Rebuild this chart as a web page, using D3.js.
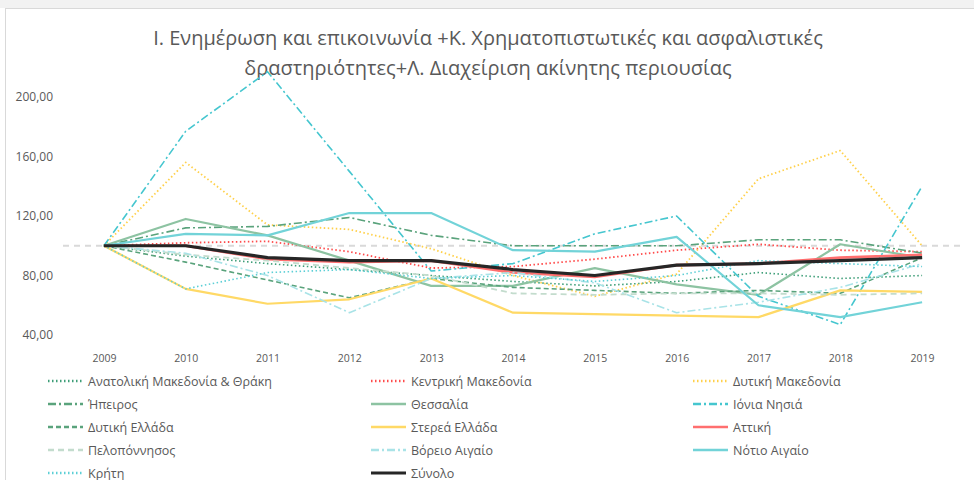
<!DOCTYPE html>
<html>
<head>
<meta charset="utf-8">
<script src="https://cdn.jsdelivr.net/npm/d3@7"></script>
<style>
  body { margin: 0; background: #fff; }
  text { font-family: "Open Sans", "Noto Sans", sans-serif; fill: #595959; }
</style>
</head>
<body>
<svg id="chart" width="974" height="480"></svg>
<script>
// years on the category axis
const years = [2009, 2010, 2011, 2012, 2013, 2014, 2015, 2016, 2017, 2018, 2019];

// index values per region (2009 = 100)
const anatMakThraki = [100, 93, 88, 84, 80, 76, 73, 76, 82, 78, 80];
const kentMak       = [100, 102, 103, 96, 85, 86, 91, 97, 101, 97, 96];
const dytMak        = [100, 156, 114, 111, 98, 80, 66, 81, 145, 164, 100];
const ipeiros       = [100, 112, 113, 119, 107, 100, 100, 100, 104, 104, 95];
const thessalia     = [100, 118, 107, 90, 73, 73, 85, 74, 67, 101, 92];
const ionia         = [100, 177, 217, 150, 83, 88, 108, 120, 66, 47, 140];
const dytEllada     = [100, 89, 77, 65, 78, 72, 70, 68, 70, 68, 92];
const stereaEllada  = [100, 71, 61, 64, 78, 55, 54, 53, 52, 70, 69];
const attiki        = [100, 100, 91, 89, 90, 82, 79, 87, 88, 92, 94];
const peloponnisos  = [100, 94, 90, 85, 80, 68, 67, 68, 68, 67, 68];
const voreioAigaio  = [100, 95, 80, 55, 78, 82, 75, 55, 62, 72, 88];
const notioAigaio   = [100, 108, 107, 122, 122, 97, 96, 106, 60, 52, 62];
const kriti         = [100, 71, 82, 84, 78, 80, 76, 80, 90, 88, 86];
const synolo        = [100, 100, 92, 90, 90, 84, 80, 87, 88, 90, 92];

const seriesNames = ["Ανατολική Μακεδονία & Θράκη", "Κεντρική Μακεδονία", "Δυτική Μακεδονία",
  "Ήπειρος", "Θεσσαλία", "Ιόνια Νησιά", "Δυτική Ελλάδα", "Στερεά Ελλάδα", "Αττική",
  "Πελοπόννησος", "Βόρειο Αιγαίο", "Νότιο Αιγαίο", "Κρήτη", "Σύνολο"];

const yTicks = [40, 80, 120, 160, 200];
const refLevel = 100;

const titleLines = ["Ι. Ενημέρωση και επικοινωνία +Κ. Χρηματοπιστωτικές και ασφαλιστικές",
  "δραστηριότητες+Λ. Διαχείριση ακίνητης περιουσίας"];

// line styles, same order as seriesNames
const styles = [
  {color: "#3e9e78", width: 1.6, dash: "1.5,2.5"},
  {color: "#ff4b4b", width: 1.8, dash: "1.5,2.5"},
  {color: "#ffd04a", width: 1.8, dash: "1.5,2.5"},
  {color: "#5aa37c", width: 1.6, dash: "8,3,2,3"},
  {color: "#8dc3a2", width: 2.2, dash: null},
  {color: "#45c6cf", width: 1.6, dash: "8,3,2,3"},
  {color: "#5aa37c", width: 1.6, dash: "5,3"},
  {color: "#ffd966", width: 2.2, dash: null},
  {color: "#ff6f6f", width: 2.6, dash: null},
  {color: "#c3dccd", width: 1.8, dash: "6,4"},
  {color: "#a9e3e7", width: 1.6, dash: "8,3,2,3"},
  {color: "#72d3d8", width: 2.2, dash: null},
  {color: "#5ccfd6", width: 1.6, dash: "1.5,2.5"},
  {color: "#262626", width: 3.2, dash: null}
];

const allValues = [anatMakThraki, kentMak, dytMak, ipeiros, thessalia, ionia, dytEllada,
  stereaEllada, attiki, peloponnisos, voreioAigaio, notioAigaio, kriti, synolo];

const series = seriesNames.map((name, i) => ({name: name, values: allValues[i], style: styles[i]}));

const svg = d3.select("#chart");

// chart frame
svg.append("rect").attr("x", 0).attr("y", 0).attr("width", 974).attr("height", 8).attr("fill", "#f2f2f2");
svg.append("rect").attr("x", 5.5).attr("y", 8.5).attr("width", 980).attr("height", 480)
  .attr("fill", "#fff").attr("stroke", "#d9d9d9");

// title
svg.append("g").selectAll("text")
  .data(titleLines)
  .enter()
  .append("text")
    .attr("x", 488)
    .attr("y", (d, i) => 45 + i * 30)
    .attr("text-anchor", "middle")
    .attr("font-size", 20)
    .text(d => d);

// scales
const x = d3.scalePoint()
  .domain(years)
  .range([63, 963])
  .padding(0.5);

const y = d3.scaleLinear()
  .domain([40, 200])
  .range([335, 97]);

// y axis labels
const yAxis = svg.append("g")
  .attr("transform", "translate(55,0)")
  .call(d3.axisLeft(y).tickValues(yTicks).tickSize(0).tickPadding(2)
    .tickFormat(d => d3.format(".2f")(d).replace(".", ",")));
yAxis.select(".domain").remove();
yAxis.selectAll("text").attr("font-size", 12).attr("fill", "#595959")
  .attr("font-family", "Open Sans, Noto Sans, sans-serif");

// x axis labels
const xAxis = svg.append("g")
  .attr("transform", "translate(0,352)")
  .call(d3.axisBottom(x).tickSize(0).tickPadding(3));
xAxis.select(".domain").remove();
xAxis.selectAll("text").attr("font-size", 10.5).attr("fill", "#595959")
  .attr("font-family", "Open Sans, Noto Sans, sans-serif");

// reference line at 100
svg.append("line")
  .attr("x1", x.range()[0])
  .attr("x2", x.range()[1])
  .attr("y1", y(refLevel))
  .attr("y2", y(refLevel))
  .attr("stroke", "#d9d9d9")
  .attr("stroke-width", 2)
  .attr("stroke-dasharray", "6,5");

// series lines
const line = d3.line()
  .x((d, i) => x(years[i]))
  .y(d => y(d));

svg.append("g").selectAll("path")
  .data(series)
  .enter()
  .append("path")
    .attr("d", d => line(d.values))
    .attr("fill", "none")
    .attr("stroke", d => d.style.color)
    .attr("stroke-width", d => d.style.width)
    .attr("stroke-dasharray", d => d.style.dash)
    .attr("stroke-linejoin", "round");

// legend, 3 columns
const legendCols = [88, 411, 733];
const legend = svg.append("g").selectAll("g")
  .data(series)
  .enter()
  .append("g")
    .attr("transform", (d, i) => `translate(${legendCols[i % 3]},${381 + Math.floor(i / 3) * 23})`);

legend.append("line")
  .attr("x1", -40).attr("x2", -5)
  .attr("y1", 0).attr("y2", 0)
  .attr("stroke", d => d.style.color)
  .attr("stroke-width", d => Math.max(d.style.width, 2.5))
  .attr("stroke-dasharray", d => d.style.dash);

legend.append("text")
  .attr("x", 0)
  .attr("y", 4.5)
  .attr("font-size", 12.5)
  .text(d => d.name);
</script>
</body>
</html>
